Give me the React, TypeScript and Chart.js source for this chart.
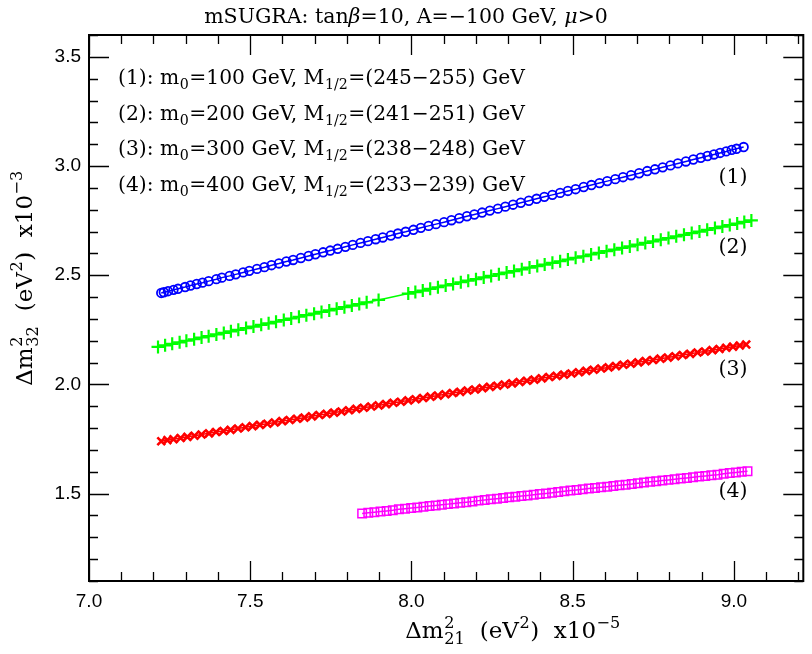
import React, { useEffect, useRef } from "react";
import { Chart, registerables } from "chart.js";
Chart.register(...registerables);

const X_TICKS = [7.0, 7.5, 8.0, 8.5, 9.0];
const Y_TICKS = [1.5, 2.0, 2.5, 3.0, 3.5];
const X_MIN = 7.0;
const X_MAX = 9.215;
const Y_MIN = 1.1;
const Y_MAX = 3.6;

// (1) m0=100 GeV — blue circles
const s1x = [7.224, 7.232, 7.245, 7.262, 7.276, 7.298, 7.315, 7.334, 7.352, 7.371, 7.395, 7.412, 7.436, 7.455, 7.478, 7.497, 7.521, 7.544, 7.566, 7.589, 7.612, 7.633, 7.657, 7.681, 7.702, 7.726, 7.748, 7.771, 7.795, 7.818, 7.842, 7.865, 7.889, 7.911, 7.936, 7.958, 7.982, 8.006, 8.029, 8.053, 8.076, 8.101, 8.124, 8.148, 8.172, 8.195, 8.219, 8.243, 8.268, 8.291, 8.315, 8.339, 8.364, 8.388, 8.412, 8.437, 8.461, 8.485, 8.509, 8.534, 8.558, 8.583, 8.607, 8.632, 8.656, 8.681, 8.706, 8.731, 8.755, 8.779, 8.803, 8.826, 8.851, 8.874, 8.897, 8.918, 8.938, 8.957, 8.976, 8.993, 9.008, 9.03];
const s1y = [2.419, 2.422, 2.427, 2.433, 2.438, 2.446, 2.453, 2.46, 2.466, 2.473, 2.482, 2.489, 2.497, 2.504, 2.513, 2.52, 2.529, 2.537, 2.546, 2.554, 2.563, 2.57, 2.579, 2.588, 2.596, 2.605, 2.613, 2.621, 2.63, 2.639, 2.648, 2.656, 2.665, 2.673, 2.682, 2.691, 2.699, 2.708, 2.717, 2.726, 2.734, 2.743, 2.752, 2.761, 2.77, 2.778, 2.787, 2.796, 2.805, 2.814, 2.823, 2.832, 2.841, 2.85, 2.859, 2.868, 2.877, 2.886, 2.894, 2.904, 2.913, 2.922, 2.931, 2.94, 2.949, 2.958, 2.967, 2.977, 2.985, 2.994, 3.003, 3.012, 3.021, 3.03, 3.038, 3.046, 3.053, 3.06, 3.067, 3.074, 3.079, 3.087];

// (2) m0=200 GeV — green plus
const s2x = [7.214, 7.236, 7.258, 7.281, 7.302, 7.326, 7.349, 7.371, 7.395, 7.418, 7.44, 7.463, 7.487, 7.51, 7.534, 7.557, 7.58, 7.604, 7.627, 7.651, 7.674, 7.698, 7.721, 7.745, 7.768, 7.792, 7.815, 7.838, 7.861, 7.898, 7.99, 8.012, 8.035, 8.058, 8.082, 8.106, 8.129, 8.153, 8.176, 8.2, 8.224, 8.247, 8.271, 8.295, 8.318, 8.342, 8.366, 8.39, 8.413, 8.437, 8.461, 8.485, 8.509, 8.533, 8.557, 8.581, 8.605, 8.629, 8.653, 8.677, 8.701, 8.725, 8.749, 8.773, 8.797, 8.821, 8.845, 8.869, 8.893, 8.917, 8.941, 8.964, 8.987, 9.01, 9.032, 9.054];
const s2y = [2.172, 2.179, 2.186, 2.193, 2.2, 2.207, 2.215, 2.221, 2.229, 2.236, 2.243, 2.25, 2.258, 2.265, 2.273, 2.28, 2.287, 2.295, 2.302, 2.31, 2.317, 2.324, 2.332, 2.339, 2.346, 2.354, 2.361, 2.368, 2.376, 2.387, 2.416, 2.423, 2.43, 2.438, 2.445, 2.453, 2.46, 2.468, 2.475, 2.482, 2.49, 2.497, 2.505, 2.512, 2.519, 2.527, 2.535, 2.542, 2.549, 2.557, 2.564, 2.572, 2.58, 2.587, 2.595, 2.602, 2.61, 2.617, 2.625, 2.632, 2.64, 2.648, 2.655, 2.663, 2.67, 2.678, 2.685, 2.693, 2.7, 2.708, 2.716, 2.723, 2.73, 2.737, 2.744, 2.751];

// (3) m0=300 GeV — red crosses
const s3x = [7.224, 7.243, 7.262, 7.284, 7.305, 7.327, 7.349, 7.372, 7.394, 7.417, 7.439, 7.462, 7.485, 7.507, 7.53, 7.553, 7.576, 7.599, 7.622, 7.645, 7.668, 7.691, 7.714, 7.737, 7.76, 7.783, 7.806, 7.829, 7.852, 7.875, 7.898, 7.921, 7.944, 7.967, 7.99, 8.013, 8.036, 8.059, 8.082, 8.105, 8.128, 8.151, 8.174, 8.197, 8.22, 8.243, 8.266, 8.289, 8.312, 8.335, 8.358, 8.381, 8.404, 8.427, 8.45, 8.473, 8.496, 8.519, 8.542, 8.565, 8.588, 8.611, 8.634, 8.657, 8.68, 8.703, 8.726, 8.749, 8.772, 8.795, 8.818, 8.841, 8.864, 8.887, 8.91, 8.933, 8.955, 8.976, 8.997, 9.018, 9.038];
const s3y = [1.74, 1.745, 1.749, 1.755, 1.76, 1.765, 1.771, 1.776, 1.782, 1.787, 1.792, 1.798, 1.804, 1.809, 1.815, 1.82, 1.826, 1.832, 1.837, 1.843, 1.848, 1.854, 1.86, 1.865, 1.871, 1.876, 1.882, 1.888, 1.893, 1.899, 1.904, 1.91, 1.916, 1.921, 1.927, 1.932, 1.938, 1.944, 1.949, 1.955, 1.961, 1.966, 1.972, 1.977, 1.983, 1.989, 1.994, 2.0, 2.005, 2.011, 2.017, 2.022, 2.028, 2.034, 2.039, 2.045, 2.05, 2.056, 2.062, 2.067, 2.073, 2.078, 2.084, 2.09, 2.095, 2.101, 2.107, 2.112, 2.118, 2.123, 2.129, 2.135, 2.14, 2.146, 2.151, 2.157, 2.162, 2.168, 2.173, 2.178, 2.183];

// (4) m0=400 GeV — magenta squares
const s4x = [7.847, 7.866, 7.885, 7.904, 7.923, 7.942, 7.961, 7.98, 7.999, 8.018, 8.037, 8.056, 8.075, 8.094, 8.113, 8.132, 8.151, 8.17, 8.189, 8.208, 8.227, 8.246, 8.265, 8.284, 8.303, 8.322, 8.341, 8.36, 8.379, 8.398, 8.417, 8.436, 8.455, 8.474, 8.493, 8.512, 8.531, 8.55, 8.569, 8.588, 8.607, 8.626, 8.645, 8.664, 8.683, 8.702, 8.721, 8.74, 8.759, 8.778, 8.797, 8.816, 8.835, 8.854, 8.873, 8.892, 8.911, 8.93, 8.949, 8.968, 8.987, 9.006, 9.024, 9.042];
const s4y = [1.409, 1.412, 1.415, 1.418, 1.421, 1.424, 1.428, 1.431, 1.434, 1.437, 1.44, 1.443, 1.446, 1.449, 1.452, 1.455, 1.458, 1.461, 1.464, 1.468, 1.471, 1.474, 1.477, 1.48, 1.483, 1.486, 1.489, 1.492, 1.495, 1.498, 1.501, 1.504, 1.508, 1.511, 1.514, 1.517, 1.52, 1.523, 1.526, 1.529, 1.532, 1.535, 1.538, 1.541, 1.544, 1.548, 1.551, 1.554, 1.557, 1.56, 1.563, 1.566, 1.569, 1.572, 1.575, 1.578, 1.581, 1.584, 1.587, 1.591, 1.594, 1.597, 1.6, 1.603];

const SERIES_LABELS = ["(1)", "(2)", "(3)", "(4)"];
const LABEL_X = [8.997, 8.997, 8.997, 8.997];
const LABEL_Y = [2.945, 2.626, 2.067, 1.509];

type Part = { t: string; sup?: string; sub?: string; it?: boolean };

const SERIF = '"DejaVu Serif", serif';
const SANS = '"Liberation Sans", Arial, sans-serif';

const TITLE: Part[] = [
  { t: "mSUGRA: tan" },
  { t: "β", it: true },
  { t: "=10, A=−100 GeV, " },
  { t: "μ", it: true },
  { t: ">0" },
];

const LEGEND_LINES: Part[][] = [
  [{ t: "(1): m", sub: "0" }, { t: "=100 GeV, M", sub: "1/2" }, { t: "=(245−255) GeV" }],
  [{ t: "(2): m", sub: "0" }, { t: "=200 GeV, M", sub: "1/2" }, { t: "=(241−251) GeV" }],
  [{ t: "(3): m", sub: "0" }, { t: "=300 GeV, M", sub: "1/2" }, { t: "=(238−248) GeV" }],
  [{ t: "(4): m", sub: "0" }, { t: "=400 GeV, M", sub: "1/2" }, { t: "=(233−239) GeV" }],
];

const X_TITLE: Part[] = [{ t: "Δm", sup: "2", sub: "21" }, { t: "  (eV", sup: "2" }, { t: ")  x10", sup: "−5" }];
const Y_TITLE: Part[] = [{ t: "Δm", sup: "2", sub: "32" }, { t: "  (eV", sup: "2" }, { t: ")  x10", sup: "−3" }];

function fnt(size: number, family: string, it?: boolean) {
  return `${it ? "italic " : ""}${size}px ${family}`;
}

function measureParts(ctx: CanvasRenderingContext2D, parts: Part[], size: number, family: string) {
  let w = 0;
  for (const p of parts) {
    ctx.font = fnt(size, family, p.it);
    w += ctx.measureText(p.t).width;
    if (p.sup || p.sub) {
      ctx.font = fnt(size * 0.7, family);
      const a = p.sup ? ctx.measureText(p.sup).width : 0;
      const b = p.sub ? ctx.measureText(p.sub).width : 0;
      w += Math.max(a, b) + 1;
    }
  }
  return w;
}

function drawRich(
  ctx: CanvasRenderingContext2D,
  x: number,
  y: number,
  parts: Part[],
  size: number,
  family: string,
  align: "left" | "center"
) {
  const total = measureParts(ctx, parts, size, family);
  let cx = align === "center" ? x - total / 2 : x;
  ctx.textAlign = "left";
  ctx.textBaseline = "alphabetic";
  ctx.fillStyle = "#000";
  for (const p of parts) {
    ctx.font = fnt(size, family, p.it);
    ctx.fillText(p.t, cx, y);
    cx += ctx.measureText(p.t).width;
    if (p.sup || p.sub) {
      ctx.font = fnt(size * 0.7, family);
      const a = p.sup ? ctx.measureText(p.sup).width : 0;
      const b = p.sub ? ctx.measureText(p.sub).width : 0;
      if (p.sup) ctx.fillText(p.sup, cx + 0.5, y - size * 0.42);
      if (p.sub) ctx.fillText(p.sub, cx + 0.5, y + size * 0.26);
      cx += Math.max(a, b) + 1;
    }
  }
}

const decorPlugin = {
  id: "decor",
  afterDatasetsDraw(chart: any) {
    const ctx: CanvasRenderingContext2D = chart.ctx;
    const { left, right, top, bottom } = chart.chartArea;
    const xs = chart.scales.x;
    const ys = chart.scales.y;
    ctx.save();
    ctx.strokeStyle = "#000";
    ctx.lineWidth = 1.3;
    ctx.beginPath();
    for (let i = 70; i <= 92; i++) {
      const v = i / 10;
      if (v > X_MAX + 1e-9) break;
      const px = Math.round(xs.getPixelForValue(v)) + 0.5;
      const len = i % 5 === 0 ? 20 : 9;
      ctx.moveTo(px, bottom);
      ctx.lineTo(px, bottom - len);
      ctx.moveTo(px, top);
      ctx.lineTo(px, top + len);
    }
    for (let i = 11; i <= 36; i++) {
      const v = i / 10;
      const py = Math.round(ys.getPixelForValue(v)) + 0.5;
      const len = i % 5 === 0 ? 20 : 9;
      ctx.moveTo(left, py);
      ctx.lineTo(left + len, py);
      ctx.moveTo(right, py);
      ctx.lineTo(right - len, py);
    }
    ctx.stroke();
    ctx.lineWidth = 2;
    ctx.strokeRect(left, top, right - left, bottom - top);

    ctx.fillStyle = "#000";
    ctx.font = fnt(20.5, SERIF);
    ctx.textAlign = "center";
    ctx.textBaseline = "middle";
    SERIES_LABELS.forEach((s, i) => {
      ctx.fillText(s, xs.getPixelForValue(LABEL_X[i]), ys.getPixelForValue(LABEL_Y[i]));
    });

    LEGEND_LINES.forEach((parts, i) => {
      drawRich(ctx, 118, 84 + i * 35.5, parts, 20.3, SERIF, "left");
    });

    drawRich(ctx, 406, 23, TITLE, 20.5, SERIF, "center");
    drawRich(ctx, 513, 638, X_TITLE, 23, SERIF, "center");
    ctx.save();
    ctx.translate(32, 278);
    ctx.rotate(-Math.PI / 2);
    drawRich(ctx, 0, 0, Y_TITLE, 23, SERIF, "center");
    ctx.restore();
    ctx.restore();
  },
};

function pts(xs: number[], ys: number[]) {
  return xs.map((x, i) => ({ x, y: ys[i] }));
}

export default function App() {
  const ref = useRef<HTMLCanvasElement | null>(null);
  useEffect(() => {
    document.body.style.margin = "0";
    const canvas = ref.current!;
    const chart = new Chart(canvas, {
      type: "scatter",
      data: {
        datasets: [
          {
            data: pts(s4x, s4y),
            showLine: true,
            borderColor: "#ff00ff",
            backgroundColor: "rgba(0,0,0,0)",
            borderWidth: 1.5,
            pointStyle: "rect",
            pointRadius: 6,
            pointBorderWidth: 1.5,
            pointBorderColor: "#ff00ff",
            pointBackgroundColor: "rgba(0,0,0,0)",
          },
          {
            data: pts(s3x, s3y),
            showLine: true,
            borderColor: "#ff0000",
            backgroundColor: "rgba(0,0,0,0)",
            borderWidth: 1.5,
            pointStyle: "crossRot",
            pointRadius: 5.5,
            pointBorderWidth: 2.6,
            pointBorderColor: "#ff0000",
          },
          {
            data: pts(s2x, s2y),
            showLine: true,
            borderColor: "#00ff00",
            backgroundColor: "rgba(0,0,0,0)",
            borderWidth: 1.5,
            pointStyle: "cross",
            pointRadius: 6.5,
            pointBorderWidth: 2.2,
            pointBorderColor: "#00ff00",
          },
          {
            data: pts(s1x, s1y),
            showLine: true,
            borderColor: "#0000ff",
            backgroundColor: "rgba(0,0,0,0)",
            borderWidth: 1.5,
            pointStyle: "circle",
            pointRadius: 4.3,
            pointBorderWidth: 1.8,
            pointBorderColor: "#0000ff",
            pointBackgroundColor: "rgba(0,0,0,0)",
          },
        ],
      },
      options: {
        responsive: false,
        animation: false,
        events: [],
        layout: { padding: { top: 35, right: 6, left: 0, bottom: 0 } },
        plugins: { legend: { display: false }, tooltip: { enabled: false }, title: { display: false } },
        scales: {
          x: {
            type: "linear",
            position: "bottom",
            min: X_MIN,
            max: X_MAX,
            afterBuildTicks: (s: any) => {
              s.ticks = X_TICKS.map((v) => ({ value: v }));
            },
            afterFit: (s: any) => {
              s.height = 73;
            },
            grid: { display: false, drawTicks: false },
            border: { display: false },
            ticks: {
              autoSkip: false,
              maxRotation: 0,
              padding: 9,
              color: "#000",
              font: { family: SANS, size: 19 },
              callback: (v: any) => Number(v).toFixed(1),
            },
          },
          y: {
            type: "linear",
            position: "left",
            min: Y_MIN,
            max: Y_MAX,
            afterBuildTicks: (s: any) => {
              s.ticks = Y_TICKS.map((v) => ({ value: v }));
            },
            afterFit: (s: any) => {
              s.width = 89;
            },
            grid: { display: false, drawTicks: false },
            border: { display: false },
            ticks: {
              autoSkip: false,
              padding: 8,
              color: "#000",
              font: { family: SANS, size: 19 },
              callback: (v: any) => Number(v).toFixed(1),
            },
          },
        },
      },
      plugins: [decorPlugin],
    } as any);
    return () => chart.destroy();
  }, []);
  return (
    <div style={{ position: "fixed", left: 0, top: 0, width: 812, height: 654, background: "#fff" }}>
      <canvas ref={ref} width={812} height={654} />
    </div>
  );
}
